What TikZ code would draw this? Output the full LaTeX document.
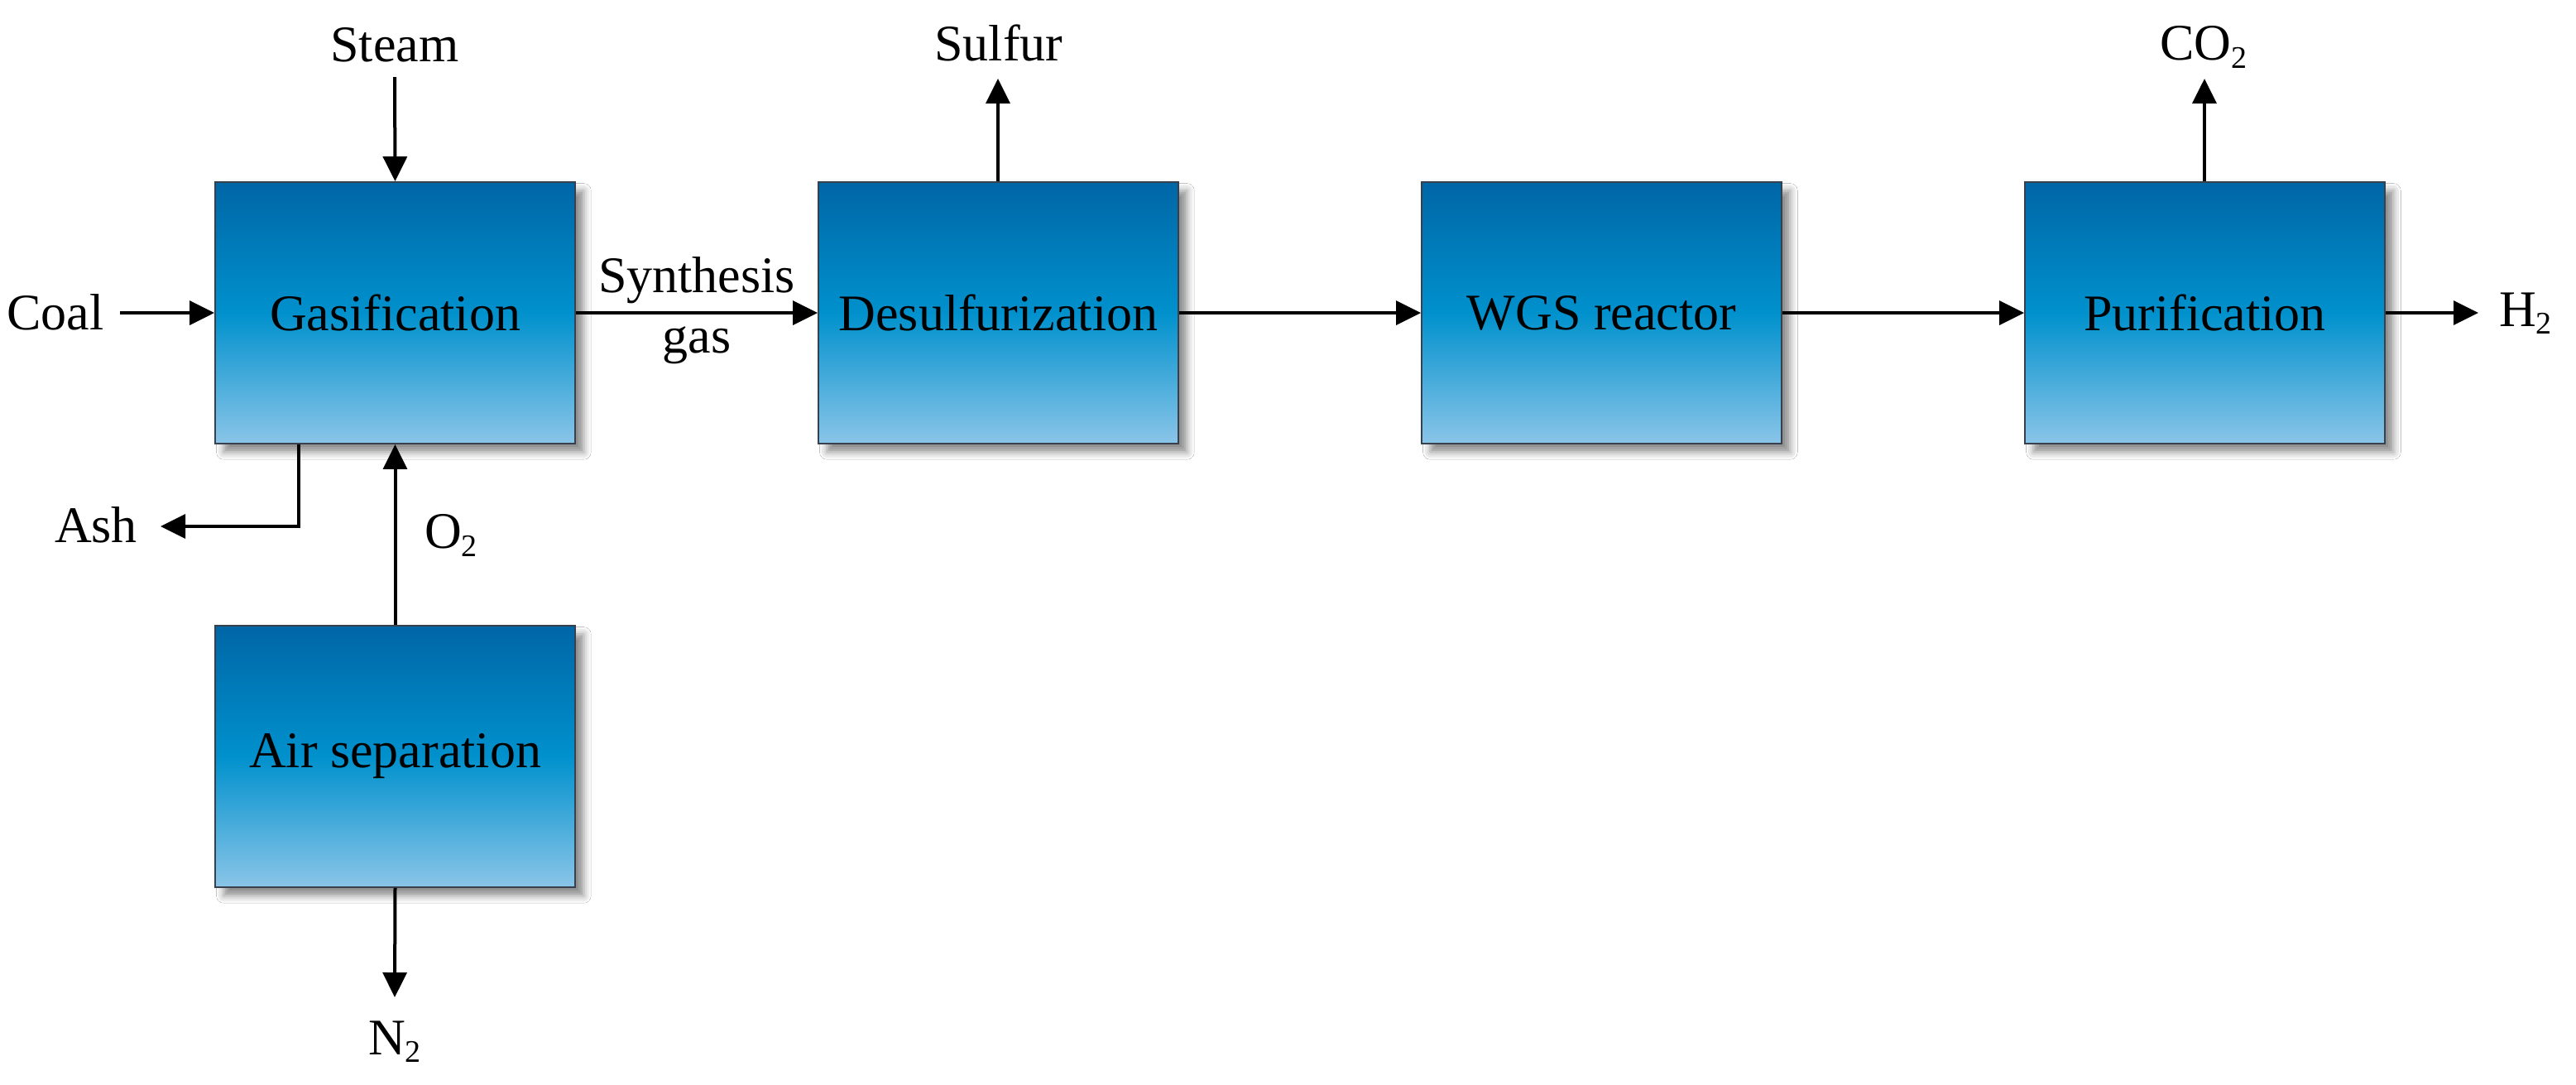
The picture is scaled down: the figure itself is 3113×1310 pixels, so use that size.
\documentclass[tikz,border=0pt]{standalone}
\usepackage{fontspec}
\setmainfont{Liberation Serif}
\usetikzlibrary{arrows.meta,shadows.blur}
\definecolor{boxtop}{RGB}{0,102,166}
\definecolor{boxmid}{RGB}{0,145,205}
\definecolor{boxbot}{RGB}{138,197,232}
\definecolor{boxedge}{RGB}{55,65,78}
\newcommand{\chsub}[1]{\raisebox{-2.3pt}{\fontsize{9.5pt}{9.5pt}\selectfont #1}}
\tikzset{
  procbox/.style={draw=boxedge, line width=0.45pt, minimum width=108.75pt, minimum height=79pt,
    inner sep=0pt, top color=boxtop, bottom color=boxbot, middle color=boxmid,
    blur shadow={shadow xshift=2.6pt, shadow yshift=-2.6pt, shadow blur radius=2.2pt, shadow opacity=45},
    font=\fontsize{15.5pt}{18pt}\selectfont},
  lbl/.style={inner sep=0pt, font=\fontsize{15.5pt}{18pt}\selectfont},
  flow/.style={line width=1pt, -{Triangle[length=7.5pt,width=7.2pt]}}
}
\begin{document}
\begin{tikzpicture}[x=0.25pt,y=-0.25pt]
\fill[white] (0,0) rectangle (3113,1310);
\useasboundingbox (0,0) rectangle (3113,1310);

% process boxes
\node[procbox] (gas) at (477.5,378) {Gasification};
\node[procbox] (des) at (1206.5,378) {Desulfurization};
\node[procbox] (wgs) at (1935.5,378) {WGS reactor};
\node[procbox] (pur) at (2664.5,378) {Purification};
\node[procbox] (air) at (477.5,914) {Air separation};

% labels
\node[lbl] (steam) at (477,54) {Steam};
\node[lbl] (coal) at (67,377) {Coal};
\node[lbl] (syn1) at (842,339) {Synthesis};
\node[lbl] (syn2) at (842,417) {gas};
\node[lbl] (ash) at (116,634) {Ash};
\node[lbl] (otwo) at (545,647) {O\chsub{2}};
\node[lbl] (ntwo) at (477,1259) {N\chsub{2}};
\node[lbl] (sulfur) at (1207,52) {Sulfur};
\node[lbl] (cotwo) at (2663,57) {CO\chsub{2}};
\node[lbl] (htwo) at (3052,379) {H\chsub{2}};

% free ends
\coordinate (steamin) at (477,93);
\coordinate (coalin) at (145,378);
\coordinate (ashbend) at (361,636);
\coordinate (ashout) at (194,636);
\coordinate (nout) at (477,1205);
\coordinate (sout) at (1206,95);
\coordinate (cout) at (2664,95);
\coordinate (hout) at (2995,378);

% connectors
\draw[flow] (steamin) -- (gas.north);
\draw[flow] (coalin) -- (gas.west);
\draw[flow] (gas.east) -- (des.west);
\draw[flow] (gas.south -| ashbend) -- (ashbend) -- (ashout);
\draw[flow] (air.north) -- (gas.south);
\draw[flow] (air.south) -- (nout);
\draw[flow] (des.north -| sout) -- (sout);
\draw[flow] (des.east) -- (wgs.west);
\draw[flow] (wgs.east) -- (pur.west);
\draw[flow] (pur.north -| cout) -- (cout);
\draw[flow] (pur.east) -- (hout);
\end{tikzpicture}
\end{document}
